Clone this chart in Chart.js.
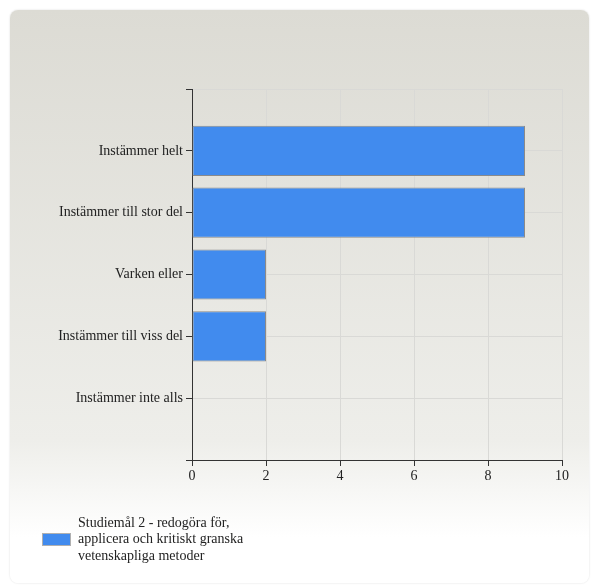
<!DOCTYPE html>
<html>
<head>
<meta charset="utf-8">
<script src="https://cdn.jsdelivr.net/npm/chart.js@4.4.1/dist/chart.umd.min.js"></script>
<style>
    html, body { margin: 0; padding: 0; background: #ffffff; }
    .card {
        position: absolute;
        left: 10px;
        top: 10px;
        width: 579px;
        height: 573px;
        border-radius: 8px;
        background: linear-gradient(to bottom, #dcdbd4 0%, #eeeeea 75%, #ffffff 92%);
        box-shadow: 0 0 2px rgba(0, 0, 0, 0.15);
    }
    canvas { display: block; }
</style>
</head>
<body>
<div class="card">
    <canvas id="chart" width="579" height="573"></canvas>
</div>
<script>
// Chart data
const categories = ['Instämmer helt', 'Instämmer till stor del', 'Varken eller', 'Instämmer till viss del', 'Instämmer inte alls'];
const values = [9, 9, 2, 2, 0];
const xTicks = [0, 2, 4, 6, 8, 10];
const seriesName = ['Studiemål 2 - redogöra för,', 'applicera och kritiskt granska', 'vetenskapliga metoder'];

const barColor = '#418bee';
const fontFamily = '"Liberation Serif", "Times New Roman", serif';

// empty slots above and below so the categories sit between the edges
const labels = [''].concat(categories, ['']);
const data = [null].concat(values, [null]);

// Legend drawn by hand so the series name can wrap on three lines
const legendPlugin = {
    id: 'wrappedLegend',
    afterDraw(chart) {
        const ctx = chart.ctx;
        ctx.save();
        ctx.fillStyle = barColor;
        ctx.fillRect(32, 523, 29, 13);
        ctx.strokeStyle = '#b0b0b0';
        ctx.lineWidth = 1;
        ctx.strokeRect(32.5, 523.5, 28, 12);
        ctx.fillStyle = '#222';
        ctx.font = '14px ' + fontFamily;
        ctx.textBaseline = 'middle';
        ctx.textAlign = 'left';
        seriesName.forEach(function(line, i) {
            ctx.fillText(line, 68, 513 + i * 16.5);
        });
        ctx.restore();
    }
};

const ctx = document.getElementById('chart').getContext('2d');
new Chart(ctx, {
    type: 'bar',
    data: {
        labels: labels,
        datasets: [{
            label: seriesName.join(' '),
            data: data,
            backgroundColor: barColor,
            borderColor: '#8a8a8a',
            borderWidth: function(c) { return c.raw ? 1 : 0; },
            borderSkipped: false,
            categoryPercentage: 1,
            barPercentage: 0.81
        }]
    },
    options: {
        indexAxis: 'y',
        responsive: false,
        animation: false,
        layout: { padding: { top: 79, right: 27, left: 0, bottom: 0 } },
        plugins: {
            legend: { display: false },
            tooltip: { enabled: false }
        },
        scales: {
            x: {
                min: 0,
                max: 10,
                afterBuildTicks: function(scale) {
                    scale.ticks = xTicks.map(function(v) { return { value: v }; });
                },
                afterFit: function(scale) { scale.height = 123; },
                grid: { color: '#d9d9d6', tickColor: '#333', tickLength: 6 },
                border: { color: '#333' },
                ticks: { color: '#222', padding: 2, font: { family: fontFamily, size: 14 } }
            },
            y: {
                offset: false,
                afterFit: function(scale) { scale.width = 182; },
                grid: { offset: false, color: '#d9d9d6', tickColor: '#333', tickLength: 6 },
                border: { color: '#333' },
                ticks: { color: '#222', padding: 3, font: { family: fontFamily, size: 14 } }
            }
        }
    },
    plugins: [legendPlugin]
});
</script>
</body>
</html>
